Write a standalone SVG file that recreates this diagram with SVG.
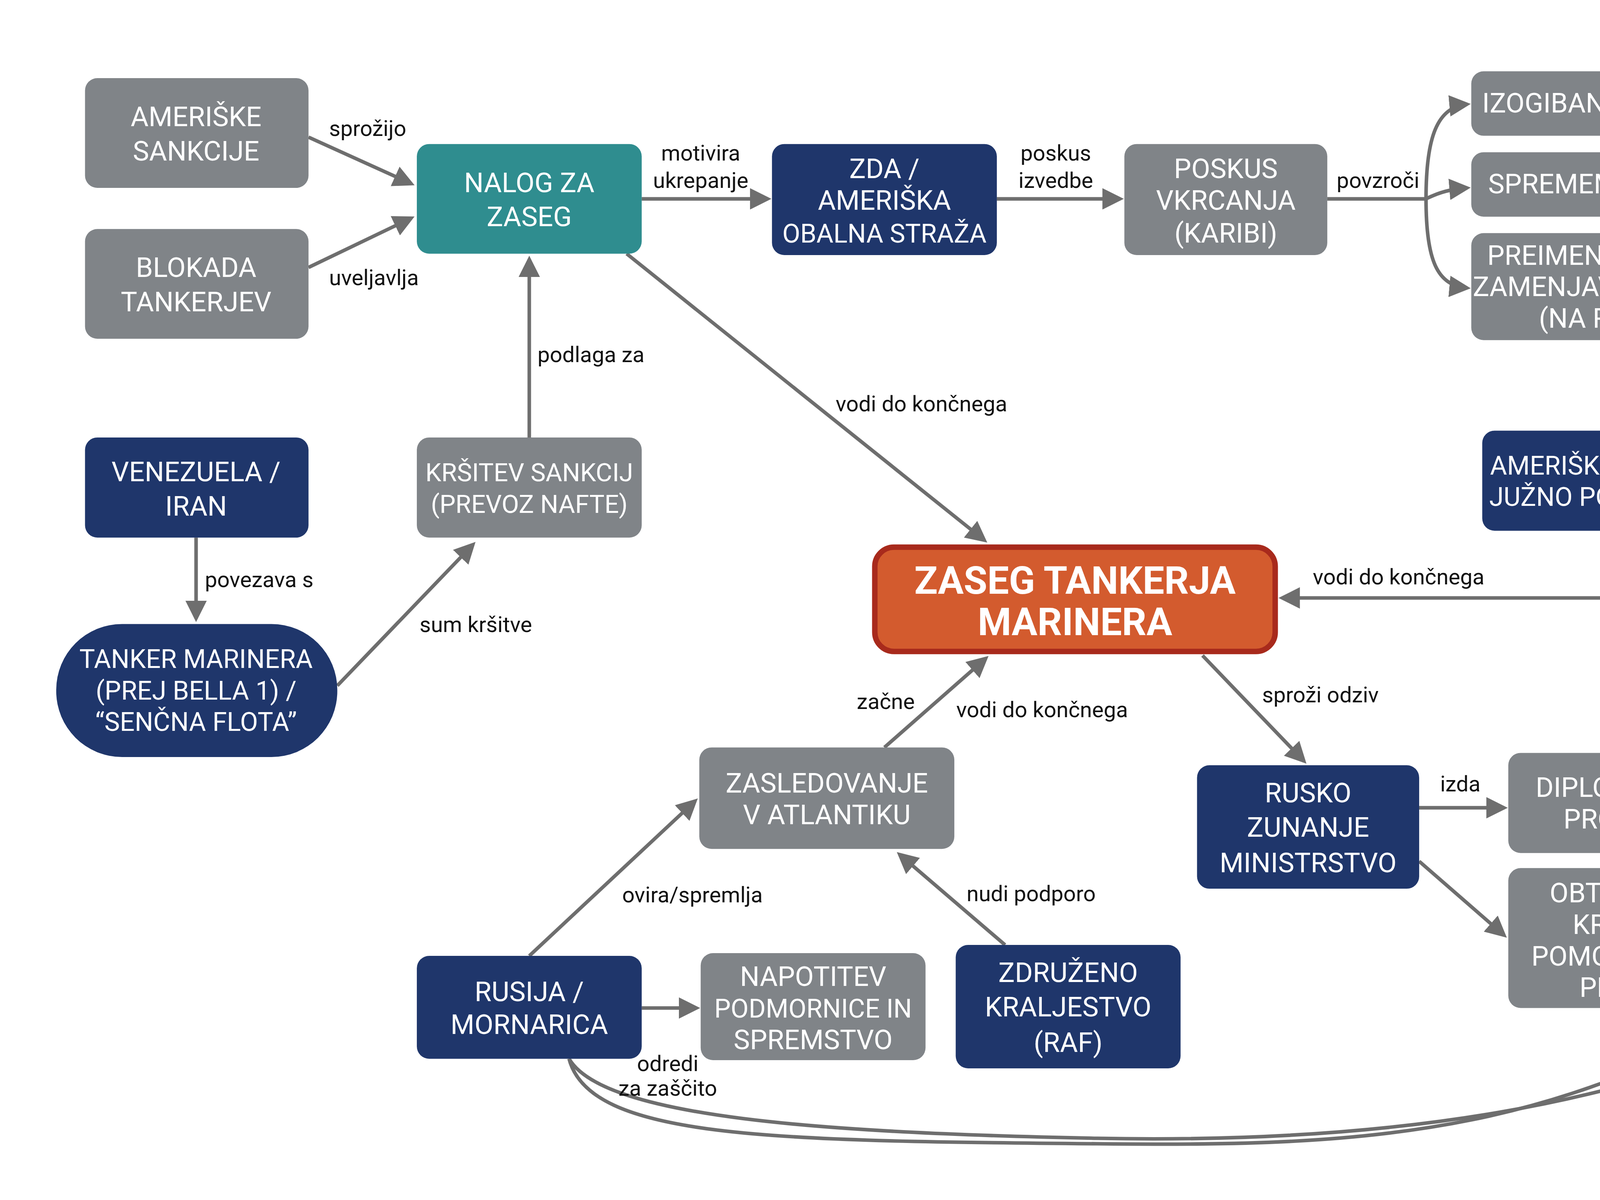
<svg xmlns="http://www.w3.org/2000/svg" width="5504" height="3072" viewBox="0 0 5504 3072">
<style>
.g{fill:#808488}.n{fill:#1f366b}.t{fill:#2f8d8f}
.nt{font-family:Roboto,"Liberation Sans",sans-serif;font-size:20px;fill:#fff;text-anchor:middle}
.el{font-family:Roboto,"Liberation Sans",sans-serif;font-size:16px;fill:#111}
.e{fill:none;stroke:#6e6e6e;stroke-width:2.6}
.a{marker-end:url(#ah)}
</style>
<defs><marker id="ah" markerWidth="6" markerHeight="6" refX="5" refY="3" orient="auto" markerUnits="strokeWidth"><path d="M0,0 L6,3 L0,6 z" fill="#6e6e6e"/></marker></defs>
<rect width="5504" height="3072" fill="#fff"/>
<svg x="0" y="0" width="5504" height="3072" viewBox="0 0 1568 875" preserveAspectRatio="none">
<g id="connectors">
<path class="e a" d="M225,100 L300,134"/><text class="el" x="240" y="99">sprožijo</text>
<path class="e a" d="M225,195 L300,159"/><text class="el" x="240" y="208">uveljavlja</text>
<path class="e a" d="M468,145 L560,145"/><text class="el" x="511" y="117" text-anchor="middle">motivira</text><text class="el" x="511" y="137" text-anchor="middle">ukrepanje</text>
<path class="e a" d="M727,145 L817,145"/><text class="el" x="770" y="117" text-anchor="middle">poskus</text><text class="el" x="770" y="137" text-anchor="middle">izvedbe</text>
<path class="e" d="M968,145 L1040,145"/><text class="el" x="1005" y="137" text-anchor="middle">povzroči</text>
<path class="e a" d="M1040,145 C1040,100 1048,78 1070,76"/>
<path class="e a" d="M1040,145 C1050,140 1058,138 1070,137"/>
<path class="e a" d="M1040,145 C1040,190 1048,208 1070,210"/>
<path class="e" d="M1281,75 L1305,75 L1305,208 L1281,208 M1281,133 L1305,133"/>
<path class="e a" d="M1305,145 L1433,145 L1433,566"/><text class="el" x="1476" y="358" text-anchor="middle">rezultat je</text>
<path class="e a" d="M1177,248 L1177,311"/><text class="el" x="1208" y="285" text-anchor="middle">izzove</text>
<path class="e a" d="M1177,387 L1177,436 L935,436"/><text class="el" x="1020" y="426" text-anchor="middle">vodi do končnega</text>
<path class="e a" d="M457,185 L718,394"/><text class="el" x="672" y="300" text-anchor="middle">vodi do končnega</text>
<path class="e a" d="M386,319 L386,189"/><text class="el" x="431" y="264" text-anchor="middle">podlaga za</text>
<path class="e a" d="M143,392 L143,451"/><text class="el" x="189" y="428" text-anchor="middle">povezava s</text>
<path class="e a" d="M246,500 L345,397"/><text class="el" x="347" y="461" text-anchor="middle">sum kršitve</text>
<path class="e a" d="M645,545 L719,480"/><text class="el" x="646" y="517" text-anchor="middle">začne</text><text class="el" x="760" y="523" text-anchor="middle">vodi do končnega</text>
<path class="e a" d="M877,478 L951,555"/><text class="el" x="963" y="512" text-anchor="middle">sproži odziv</text>
<path class="e a" d="M1035,589 L1097,589"/><text class="el" x="1065" y="577" text-anchor="middle">izda</text>
<path class="e a" d="M1035,628 L1097,682"/>
<path class="e" d="M1265,590 L1276,590 L1276,684 L1265,684"/>
<path class="e a" d="M1276,649 L1339,649"/><text class="el" x="1310" y="621" text-anchor="middle">rezultat</text><text class="el" x="1310" y="641" text-anchor="middle">je</text>
<path class="e a" d="M386,697 L507,584"/><text class="el" x="505" y="658" text-anchor="middle">ovira/spremlja</text>
<path class="e a" d="M468,735 L508,735"/>
<path class="e a" d="M733,689 L656,623"/><text class="el" x="752" y="657" text-anchor="middle">nudi podporo</text>
<path class="e a" d="M415,772 C430,830 560,832 800,834 C1000,836 1150,830 1338,700"/>
<path class="e a" d="M415,772 C440,815 600,826 800,830 C1000,834 1200,810 1343,727"/>
<text class="el" x="487" y="781" text-anchor="middle">odredi</text><text class="el" x="487" y="799" text-anchor="middle">za zaščito</text>
</g>
<g id="n1"><rect class="g" x="62" y="57" width="163" height="80" rx="9"/><text class="nt" x="143" y="92">AMERIŠKE</text><text class="nt" x="143" y="117">SANKCIJE</text></g>
<g id="n2"><rect class="g" x="62" y="167" width="163" height="80" rx="9"/><text class="nt" x="143" y="202">BLOKADA</text><text class="nt" x="143" y="227">TANKERJEV</text></g>
<g id="n3"><rect class="t" x="304" y="105" width="164" height="80" rx="9"/><text class="nt" x="386" y="140">NALOG ZA</text><text class="nt" x="386" y="165">ZASEG</text></g>
<g id="n4"><rect class="n" x="563" y="105" width="164" height="81" rx="9"/><text class="nt" x="645" y="130">ZDA /</text><text class="nt" x="645" y="153">AMERIŠKA</text><text class="nt" x="645" y="177" style="font-size:19px">OBALNA STRAŽA</text></g>
<g id="n5"><rect class="g" x="820" y="105" width="148" height="81" rx="9"/><text class="nt" x="894" y="130">POSKUS</text><text class="nt" x="894" y="153">VKRCANJA</text><text class="nt" x="894" y="177">(KARIBI)</text></g>
<g id="n6"><rect class="g" x="1073" y="52" width="208" height="47" rx="9"/><text class="nt" x="1177" y="82">IZOGIBANJE ZASEGU</text></g>
<g id="n7"><rect class="g" x="1073" y="111" width="208" height="47" rx="9"/><text class="nt" x="1177" y="141">SPREMEMBA SMERI</text></g>
<g id="n8"><rect class="g" x="1073" y="170" width="208" height="78" rx="9"/><text class="nt" x="1177" y="193">PREIMENOVANJE IN</text><text class="nt" x="1177" y="216">ZAMENJAVA ZASTAVE</text><text class="nt" x="1177" y="239">(NA RUSKO)</text></g>
<g id="n9"><rect class="n" x="1081" y="314" width="192" height="73" rx="9"/><text class="nt" x="1177" y="346" style="font-size:19px">AMERIŠKA VOJSKA /</text><text class="nt" x="1177" y="369" style="font-size:19px">JUŽNO POVELJSTVO</text></g>
<g id="n10"><rect class="n" x="62" y="319" width="163" height="73" rx="9"/><text class="nt" x="143" y="351">VENEZUELA /</text><text class="nt" x="143" y="376">IRAN</text></g>
<g id="n11"><rect class="g" x="304" y="319" width="164" height="73" rx="9"/><text class="nt" x="386" y="351" style="font-size:18.5px">KRŠITEV SANKCIJ</text><text class="nt" x="386" y="374" style="font-size:18.5px">(PREVOZ NAFTE)</text></g>
<g id="n12"><rect class="n" x="41" y="455" width="205" height="97" rx="48"/><text class="nt" x="143" y="487" style="font-size:19px">TANKER MARINERA</text><text class="nt" x="143" y="510" style="font-size:19px">(PREJ BELLA 1) /</text><text class="nt" x="143" y="533" style="font-size:19px">“SENČNA FLOTA”</text></g>
<g id="n13"><rect x="638" y="399" width="292" height="76" rx="14" fill="#d35b2e" stroke="#a82a1c" stroke-width="4"/><text class="nt" x="784" y="433" style="font-size:28px;font-weight:bold">ZASEG TANKERJA</text><text class="nt" x="784" y="463" style="font-size:28px;font-weight:bold">MARINERA</text></g>
<g id="n14"><rect class="g" x="510" y="545" width="186" height="74" rx="9"/><text class="nt" x="603" y="578">ZASLEDOVANJE</text><text class="nt" x="603" y="601">V ATLANTIKU</text></g>
<g id="n15"><rect class="n" x="873" y="558" width="162" height="90" rx="9"/><text class="nt" x="954" y="585">RUSKO</text><text class="nt" x="954" y="610">ZUNANJE</text><text class="nt" x="954" y="636">MINISTRSTVO</text></g>
<g id="n16"><rect class="g" x="1100" y="549" width="165" height="73" rx="9"/><text class="nt" x="1183" y="581">DIPLOMATSKI</text><text class="nt" x="1183" y="604">PROTEST</text></g>
<g id="n17"><rect class="g" x="1100" y="633" width="165" height="102" rx="9"/><text class="nt" x="1183" y="658">OBTOŽBE O</text><text class="nt" x="1183" y="681">KRŠITVI</text><text class="nt" x="1183" y="704">POMORSKEGA</text><text class="nt" x="1183" y="727">PRAVA</text></g>
<g id="n18"><rect class="g" x="1342" y="569" width="181" height="160" rx="22"/><text class="nt" x="1433" y="606" style="font-size:22px">POVEČANE</text><text class="nt" x="1433" y="632" style="font-size:22px">POLITIČNE</text><text class="nt" x="1433" y="658" style="font-size:22px">NAPETOSTI /</text><text class="nt" x="1433" y="684" style="font-size:22px">“NEVARNA</text><text class="nt" x="1433" y="710" style="font-size:22px">IGRA ŽIVCEV”</text></g>
<g id="n19"><rect class="n" x="304" y="697" width="164" height="75" rx="9"/><text class="nt" x="386" y="730">RUSIJA /</text><text class="nt" x="386" y="754">MORNARICA</text></g>
<g id="n20"><rect class="g" x="511" y="695" width="164" height="78" rx="9"/><text class="nt" x="593" y="719">NAPOTITEV</text><text class="nt" x="593" y="742" style="font-size:19px">PODMORNICE IN</text><text class="nt" x="593" y="765">SPREMSTVO</text></g>
<g id="n21"><rect class="n" x="697" y="689" width="164" height="90" rx="9"/><text class="nt" x="779" y="716">ZDRUŽENO</text><text class="nt" x="779" y="741">KRALJESTVO</text><text class="nt" x="779" y="767">(RAF)</text></g>
</svg>
</svg>
